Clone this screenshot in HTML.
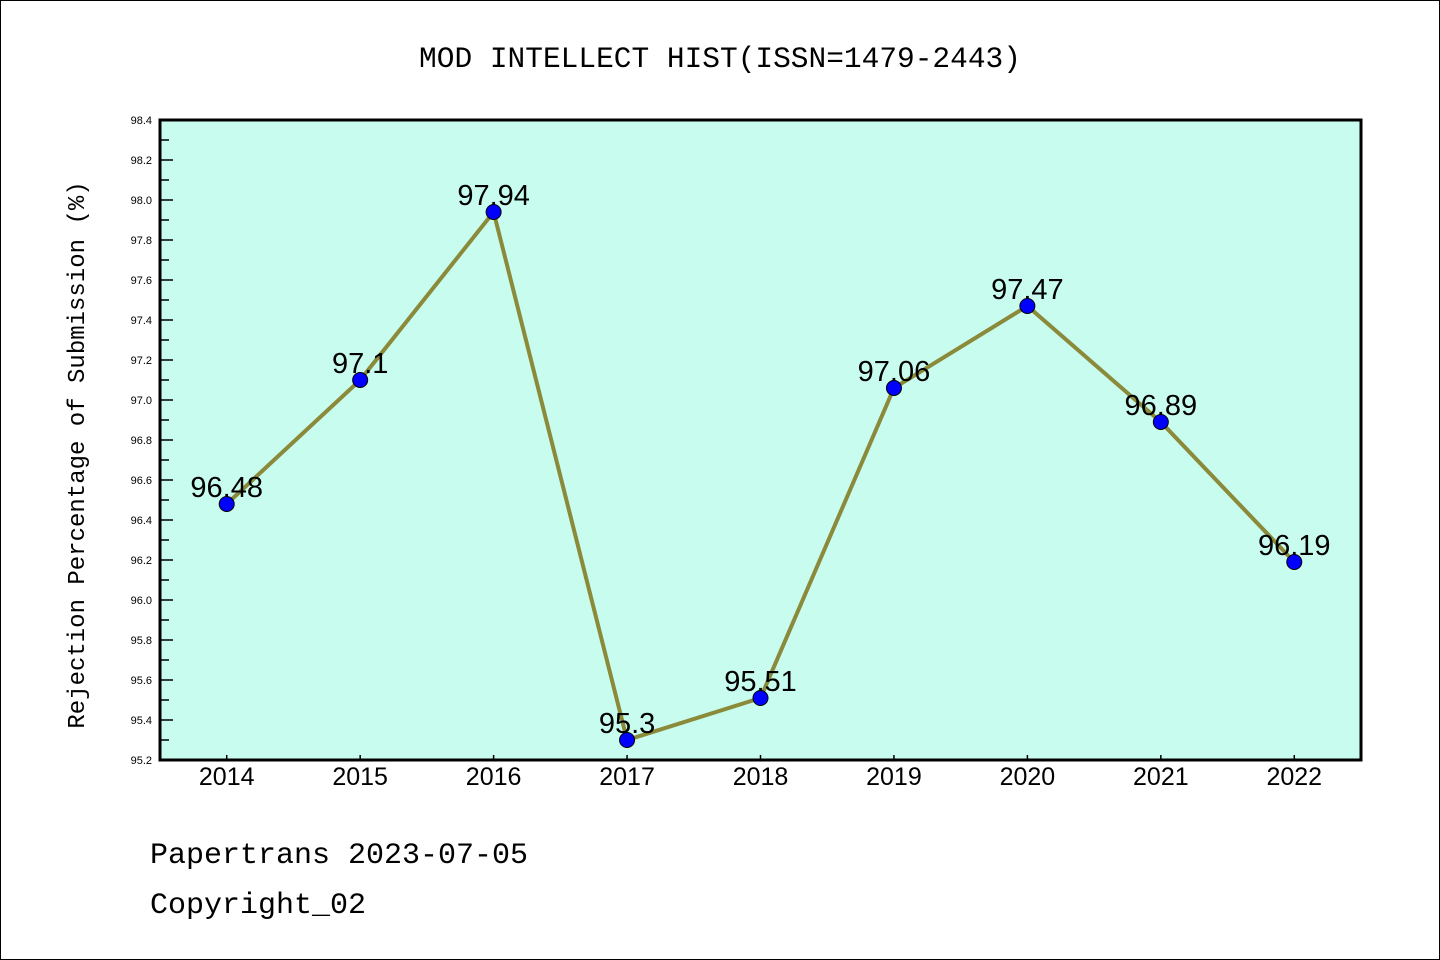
<!DOCTYPE html>
<html><head><meta charset="utf-8"><style>
body{margin:0;background:#fff}
svg{display:block;font-family:"Liberation Sans",sans-serif}
.mono{font-family:"Liberation Mono",monospace}
</style></head><body>
<svg id="c" width="1440" height="960">
<rect x="0.5" y="0.5" width="1439" height="959" fill="#fff" stroke="#000"/>
<text class="mono" x="720" y="67" font-size="29.5" text-anchor="middle">MOD INTELLECT HIST(ISSN=1479-2443)</text>
<rect x="160" y="120" width="1201" height="640" fill="#c8fcee"/>
<g id="g"></g>
<rect x="160" y="120" width="1201" height="640" fill="none" stroke="#000" stroke-width="3"/>
<text class="mono" transform="translate(84,455) rotate(-90)" font-size="24" text-anchor="middle">Rejection Percentage of Submission (%)</text>
<text class="mono" x="150" y="863" font-size="30">Papertrans 2023-07-05</text>
<text class="mono" x="150" y="913" font-size="30">Copyright_02</text>
</svg>
<script>
const categories=["2014","2015","2016","2017","2018","2019","2020","2021","2022"];
const values=[96.48,97.1,97.94,95.3,95.51,97.06,97.47,96.89,96.19];
const valueLabels=["96.48","97.1","97.94","95.3","95.51","97.06","97.47","96.89","96.19"];
const yTicks=["95.2","95.4","95.6","95.8","96.0","96.2","96.4","96.6","96.8","97.0","97.2","97.4","97.6","97.8","98.0","98.2","98.4"];
const L=160,R=1361,T=120,B=760,ymin=95.2,ymax=98.4;
const xs=i=>L+(i+0.5)*(R-L)/categories.length;
const ys=v=>B-(v-ymin)/(ymax-ymin)*(B-T);
const g=document.getElementById('g');const NS="http://www.w3.org/2000/svg";
function mk(t,a){const e=document.createElementNS(NS,t);for(const k in a)e.setAttribute(k,a[k]);g.appendChild(e);return e;}
yTicks.forEach((t,i)=>{const v=parseFloat(t),y=ys(v);
 const l=mk('line',{x1:L,x2:L+13,y1:y,y2:y,stroke:'#000','stroke-width':1.5});
 
 const tx=mk('text',{x:L-8,y:y+4,'font-size':11,'text-anchor':'end'});tx.textContent=t;
 
 if(i<yTicks.length-1){const ym=ys(v+0.1);const m=mk('line',{x1:L,x2:L+9,y1:ym,y2:ym,stroke:'#000','stroke-width':1.5});
 }
});
categories.forEach((c,i)=>{const x=xs(i);
 const l=mk('line',{x1:x,x2:x,y1:B,y2:B-5,stroke:'#000','stroke-width':1.5});
 
 const t=mk('text',{x:x,y:B+25,'font-size':25,'text-anchor':'middle'});t.textContent=c;
 
});
const line=mk('polyline',{points:values.map((v,i)=>xs(i)+','+ys(v)).join(' '),fill:'none',stroke:'#8a8a3a','stroke-width':4});

values.forEach((v,i)=>{
 const c=mk('circle',{cx:xs(i),cy:ys(v),r:7.5,fill:'#0000ff',stroke:'#000','stroke-width':1});
 
 const t=mk('text',{x:xs(i),y:ys(v)-7,'font-size':29,'text-anchor':'middle'});t.textContent=valueLabels[i];
 
});
</script>
</body></html>
